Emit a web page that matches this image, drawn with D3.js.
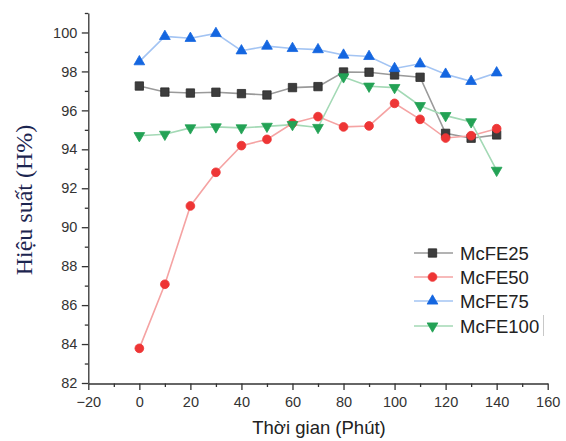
<!DOCTYPE html>
<html>
<head>
<meta charset="utf-8">
<script src="https://cdn.jsdelivr.net/npm/d3@7"></script>
<style>
  html, body { margin: 0; padding: 0; background: #fff; }
  svg { display: block; }
</style>
</head>
<body>
<svg id="chart" width="566" height="441"></svg>
<script>
const times = [0, 10, 20, 30, 40, 50, 60, 70, 80, 90, 100, 110, 120, 130, 140];
const mcfe25 = [97.25, 96.94, 96.89, 96.93, 96.86, 96.79, 97.17, 97.22, 97.97, 97.96, 97.82, 97.70, 94.82, 94.57, 94.74];
const mcfe50 = [83.78, 87.07, 91.09, 92.82, 94.19, 94.51, 95.34, 95.68, 95.15, 95.20, 96.36, 95.54, 94.58, 94.70, 95.06];
const mcfe75 = [98.50, 99.80, 99.70, 99.95, 99.06, 99.30, 99.18, 99.12, 98.84, 98.77, 98.15, 98.39, 97.86, 97.49, 97.93];
const mcfe100 = [94.70, 94.77, 95.10, 95.15, 95.10, 95.18, 95.27, 95.12, 97.72, 97.24, 97.17, 96.24, 95.73, 95.41, 92.92];
const seriesNames = ["McFE25", "McFE50", "McFE75", "McFE100"];
const xTicks = [-20, 0, 20, 40, 60, 80, 100, 120, 140, 160];
const yTicks = [82, 84, 86, 88, 90, 92, 94, 96, 98, 100];
const xLabel = "Thời gian (Phút)";
const yLabel = "Hiệu suất (H%)";

const svg = d3.select("#chart");
const x = d3.scaleLinear().domain([-20, 160]).range([88.3, 547.7]);
const y = d3.scaleLinear().domain([82, 101]).range([383, 13]);

const axisColor = "#333";

// minor ticks
const xMinor = d3.range(-10, 160, 20);
const yMinor = d3.range(83, 102, 2);
svg.append("g").attr("transform", "translate(0,383.5)")
  .call(d3.axisBottom(x).tickValues(xMinor).tickSize(3.5).tickFormat(""))
  .call(g => g.select(".domain").remove())
  .call(g => g.selectAll("line").attr("stroke", axisColor).attr("stroke-width", 1.3));
svg.append("g").attr("transform", "translate(88.3,0)")
  .call(d3.axisLeft(y).tickValues(yMinor).tickSize(3.5).tickFormat(""))
  .call(g => g.select(".domain").remove())
  .call(g => g.selectAll("line").attr("stroke", axisColor).attr("stroke-width", 1.3));

// major axes
const gx = svg.append("g").attr("transform", "translate(0,383.5)")
  .call(d3.axisBottom(x).tickValues(xTicks).tickSize(6.5).tickSizeOuter(0).tickPadding(7).tickFormat(d3.format("d")));
const gy = svg.append("g").attr("transform", "translate(88.3,0)")
  .call(d3.axisLeft(y).tickValues(yTicks).tickSize(6.5).tickSizeOuter(0).tickPadding(4.5).tickFormat(d3.format("d")));
[gx, gy].forEach(g => {
  g.select(".domain").attr("stroke", axisColor).attr("stroke-width", 1.3);
  g.selectAll(".tick line").attr("stroke", axisColor).attr("stroke-width", 1.3);
  g.selectAll(".tick text").attr("fill", "#333").style("font-family", "Liberation Sans, Arial, sans-serif").style("font-size", "14.5px");
});

// axis titles
svg.append("text").attr("x", 319).attr("y", 434).attr("text-anchor", "middle")
  .style("font-family", "Liberation Sans, Arial, sans-serif").style("font-size", "18.5px").attr("fill", "#222")
  .text(xLabel);
svg.append("text").attr("transform", "translate(32,200) rotate(-90)").attr("text-anchor", "middle")
  .style("font-family", "Liberation Serif, 'Times New Roman', serif").style("font-size", "24px").attr("fill", "#1c2550")
  .text(yLabel);

const styles = [
  { data: mcfe25, line: "#9a9a9a", fill: "#3d3d3d", stroke: "#2a2a2a", sym: d3.symbolSquare, size: 70, rot: 0 },
  { data: mcfe50, line: "#f5a3a3", fill: "#ee3535", stroke: "#ee3535", sym: d3.symbolCircle, size: 60, rot: 0 },
  { data: mcfe75, line: "#a3c4f3", fill: "#1466e0", stroke: "#1466e0", sym: d3.symbolTriangle, size: 50, rot: 0 },
  { data: mcfe100, line: "#a3d9b5", fill: "#23a255", stroke: "#23a255", sym: d3.symbolTriangle, size: 50, rot: 180 }
];

const lineGen = d3.line().x((d, i) => x(times[i])).y(d => y(d));

styles.forEach(s => {
  svg.append("path").datum(s.data).attr("d", lineGen)
    .attr("fill", "none").attr("stroke", s.line).attr("stroke-width", 1.6);
});
styles.forEach(s => {
  svg.append("g").selectAll("path").data(s.data).join("path")
    .attr("transform", (d, i) => `translate(${x(times[i])},${y(d)}) rotate(${s.rot})`)
    .attr("d", d3.symbol().type(s.sym).size(s.size))
    .attr("fill", s.fill).attr("stroke", s.stroke).attr("stroke-width", 0.8);
});

// legend
const legY = [253, 277, 301, 326];
const leg = svg.append("g");
styles.forEach((s, i) => {
  const g = leg.append("g").attr("transform", `translate(0,${legY[i]})`);
  g.append("line").attr("x1", 414).attr("x2", 453).attr("y1", 0).attr("y2", 0)
    .attr("stroke", s.line).attr("stroke-width", 1.6);
  g.append("path").attr("transform", `translate(432.5,0) rotate(${s.rot})`)
    .attr("d", d3.symbol().type(s.sym).size(s.size))
    .attr("fill", s.fill).attr("stroke", s.stroke).attr("stroke-width", 0.8);
  g.append("text").attr("x", 460).attr("y", 0).attr("dy", "0.36em")
    .style("font-family", "Liberation Sans, Arial, sans-serif").style("font-size", "18.5px").attr("fill", "#222")
    .text(seriesNames[i]);
});
// small cursor-like mark after last legend entry
leg.append("line").attr("x1", 543.5).attr("x2", 543.5).attr("y1", 315).attr("y2", 336)
  .attr("stroke", "#c8c8c8").attr("stroke-width", 1);
</script>
</body>
</html>
